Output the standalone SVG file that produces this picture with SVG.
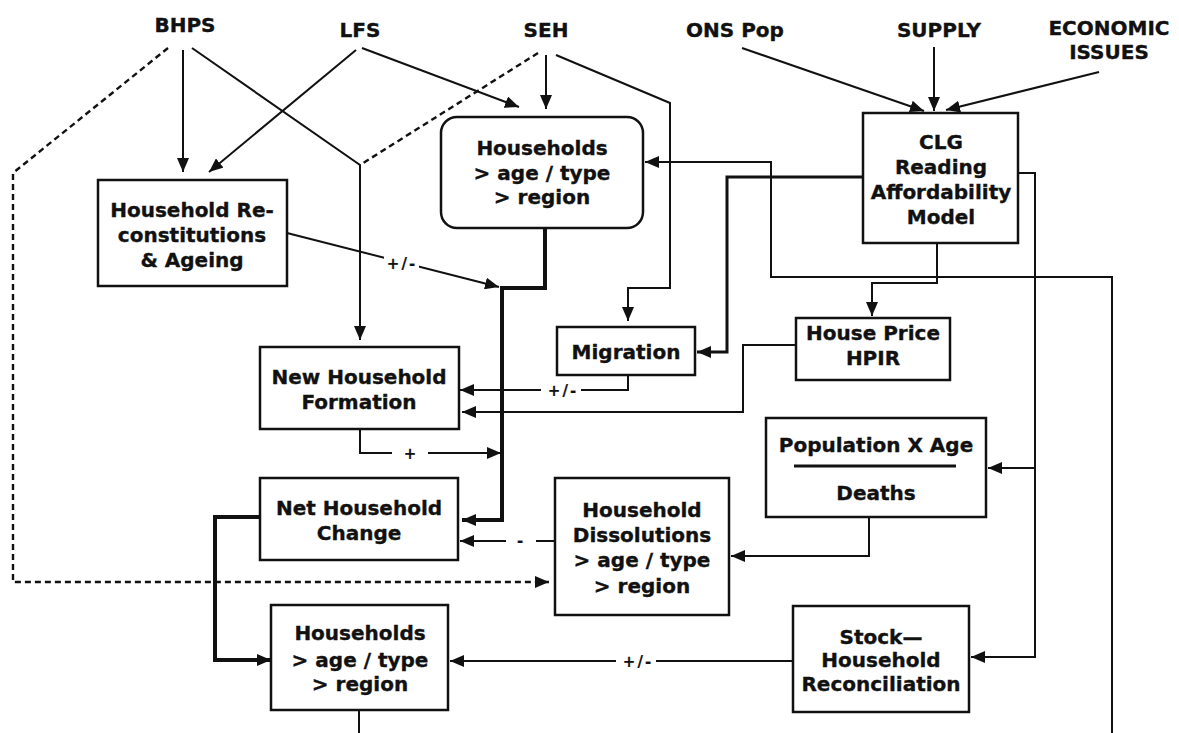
<svg xmlns="http://www.w3.org/2000/svg" width="1179" height="733" viewBox="0 0 1179 733">
<style>
text{font-family:"DejaVu Sans","Verdana",sans-serif;font-weight:bold;font-size:20px;fill:#111;stroke:#111;stroke-width:0.35;text-anchor:middle}
.box{fill:#fff;stroke:#111;stroke-width:2.5}
.ln{fill:none;stroke:#111;stroke-width:2}
.thick{fill:none;stroke:#111;stroke-width:4}
.dash{fill:none;stroke:#111;stroke-width:2.4;stroke-dasharray:6 4}
.lbl{font-size:15px;letter-spacing:2px;stroke-width:0.2}
.gap{fill:#fff;stroke:none}
</style>
<defs>
<marker id="ah" markerUnits="userSpaceOnUse" markerWidth="14" markerHeight="12" refX="14" refY="6" orient="auto">
<path d="M0,0 L14,6 L0,12 z" fill="#111"/>
</marker>
</defs>
<rect width="1179" height="733" fill="#fff"/>

<g id="connectors">
<path class="ln" d="M183,50 V172" marker-end="url(#ah)"/>
<path class="ln" d="M192,48 L360,165 V340" marker-end="url(#ah)"/>
<path class="dash" d="M168,48 L13,173 V582 H549" marker-end="url(#ah)"/>
<path class="ln" d="M356,50 L209,172" marker-end="url(#ah)"/>
<path class="ln" d="M362,48 L519,107" marker-end="url(#ah)"/>
<path class="dash" d="M538,53 L360,165"/>
<path class="ln" d="M546,55 V109" marker-end="url(#ah)"/>
<path class="ln" d="M556,55 L670,103 V288 H628 V321" marker-end="url(#ah)"/>
<path class="thick" d="M545,228 V288 H502 V520 H462" marker-end="url(#ah)"/>
<path class="ln" d="M287,233 L499,287" marker-end="url(#ah)"/>
<path class="ln" d="M628,375 V390 H460" marker-end="url(#ah)"/>
<path class="ln" d="M795,345 H743 V412 H462" marker-end="url(#ah)"/>
<path class="ln" d="M360,429 V453 H501" marker-end="url(#ah)"/>
<path class="ln" d="M555,541 H460" marker-end="url(#ah)"/>
<path class="thick" d="M260,517 H215 V660 H271" marker-end="url(#ah)"/>
<path class="ln" d="M793,661 H450" marker-end="url(#ah)"/>
<path class="ln" d="M742,48 L924,111" marker-end="url(#ah)"/>
<path class="ln" d="M934,47 V111" marker-end="url(#ah)"/>
<path class="ln" d="M1099,72 L946,110" marker-end="url(#ah)"/>
<path class="ln" style="stroke-width:3" d="M863,177 H727 V352 H697" marker-end="url(#ah)"/>
<path class="ln" d="M937,243 V283 H872 V316" marker-end="url(#ah)"/>
<path class="ln" d="M1018,173 H1035 V657 H971" marker-end="url(#ah)"/>
<path class="ln" d="M1035,468 H988" marker-end="url(#ah)"/>
<path class="ln" d="M869,517 V556 H731" marker-end="url(#ah)"/>
<path class="ln" d="M359,711 V760 H1112 V277 H771 V162 H645" marker-end="url(#ah)"/>
<rect class="gap" x="384" y="250" width="35" height="24"/>
<text class="lbl" x="402" y="269">+/-</text>
<rect class="gap" x="541" y="382" width="40" height="16"/>
<text class="lbl" x="563" y="396">+/-</text>
<rect class="gap" x="392" y="445" width="36" height="16"/>
<text class="lbl" x="411" y="459">+</text>
<rect class="gap" x="506" y="533" width="30" height="16"/>
<text class="lbl" x="521" y="546">-</text>
<rect class="gap" x="616" y="653" width="40" height="16"/>
<text class="lbl" x="638" y="667">+/-</text>
</g>

<g id="src-bhps"><text x="185" y="32">BHPS</text></g>
<g id="src-lfs"><text x="360" y="37">LFS</text></g>
<g id="src-seh"><text x="546" y="37">SEH</text></g>
<g id="src-ons"><text x="735" y="37">ONS Pop</text></g>
<g id="src-supply"><text x="939" y="37">SUPPLY</text></g>
<g id="src-econ"><text x="1109" y="35">ECONOMIC</text><text x="1109" y="59">ISSUES</text></g>

<g id="reconstitutions">
<rect class="box" x="98" y="180" width="189" height="106"/>
<text x="192" y="217">Household Re-</text>
<text x="192" y="242">constitutions</text>
<text x="192" y="267">&amp; Ageing</text>
</g>
<g id="households-top">
<rect class="box" x="441" y="117" width="202" height="111" rx="16"/>
<text x="542" y="155">Households</text>
<text x="542" y="180">&gt; age / type</text>
<text x="542" y="204">&gt; region</text>
</g>
<g id="clg">
<rect class="box" x="863" y="113" width="155" height="130"/>
<text x="941" y="149">CLG</text>
<text x="941" y="174">Reading</text>
<text x="941" y="199">Affordability</text>
<text x="941" y="224">Model</text>
</g>
<g id="migration">
<rect class="box" x="557" y="327" width="138" height="48"/>
<text x="626" y="359">Migration</text>
</g>
<g id="house-price">
<rect class="box" x="796" y="318" width="154" height="62"/>
<text x="873" y="340">House Price</text>
<text x="873" y="365">HPIR</text>
</g>
<g id="new-formation">
<rect class="box" x="260" y="347" width="199" height="82"/>
<text x="359" y="384">New Household</text>
<text x="359" y="409">Formation</text>
</g>
<g id="population">
<rect class="box" x="766" y="418" width="220" height="99"/>
<text x="876" y="452">Population X Age</text>
<line x1="794" y1="466" x2="956" y2="466" stroke="#111" stroke-width="3"/>
<text x="876" y="500">Deaths</text>
</g>
<g id="net-change">
<rect class="box" x="260" y="478" width="198" height="82"/>
<text x="359" y="515">Net Household</text>
<text x="359" y="540">Change</text>
</g>
<g id="dissolutions">
<rect class="box" x="555" y="478" width="174" height="137"/>
<text x="642" y="517">Household</text>
<text x="642" y="542">Dissolutions</text>
<text x="642" y="567">&gt; age / type</text>
<text x="642" y="593">&gt; region</text>
</g>
<g id="households-bottom">
<rect class="box" x="271" y="605" width="177" height="105"/>
<text x="360" y="640">Households</text>
<text x="360" y="667">&gt; age / type</text>
<text x="360" y="691">&gt; region</text>
</g>
<g id="stock">
<rect class="box" x="793" y="606" width="176" height="106"/>
<text x="881" y="644">Stock—</text>
<text x="881" y="667">Household</text>
<text x="881" y="691">Reconciliation</text>
</g>
</svg>
